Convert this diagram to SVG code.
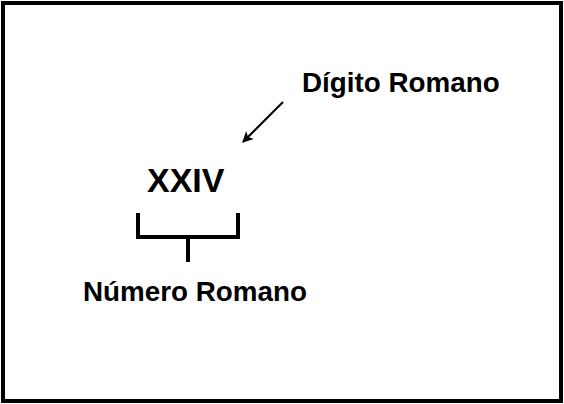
<svg xmlns="http://www.w3.org/2000/svg" width="564" height="404" viewBox="0 0 564 404">
<style>
text{font-family:"Liberation Sans",Arial,sans-serif;font-weight:bold;fill:#000}
.lbl{font-size:27.8px}
.big{font-size:34px}
.br{fill:none;stroke:#000;stroke-width:4}
</style>
<defs>
<marker id="ah" viewBox="0 0 10 10" refX="9" refY="5" markerWidth="13" markerHeight="11" markerUnits="userSpaceOnUse" orient="auto">
<path d="M0,0 L10,5 L0,10 L2.5,5 Z" fill="#000"/>
</marker>
</defs>
<rect x="3" y="3" width="558" height="398" fill="#fff" stroke="#000" stroke-width="4"/>
<g id="numeral"><text class="big" x="147" y="192">XXIV</text></g>
<g id="digito"><text class="lbl" x="302" y="92">Dígito Romano</text></g>
<g id="numero"><text class="lbl" x="83" y="301">Número Romano</text></g>
<g id="connectors">
<path class="br" d="M138,213 V237 H238 V213 M188,237 V262"/>
<line x1="283" y1="102" x2="243" y2="142" stroke="#000" stroke-width="2" marker-end="url(#ah)"/>
</g>
</svg>
